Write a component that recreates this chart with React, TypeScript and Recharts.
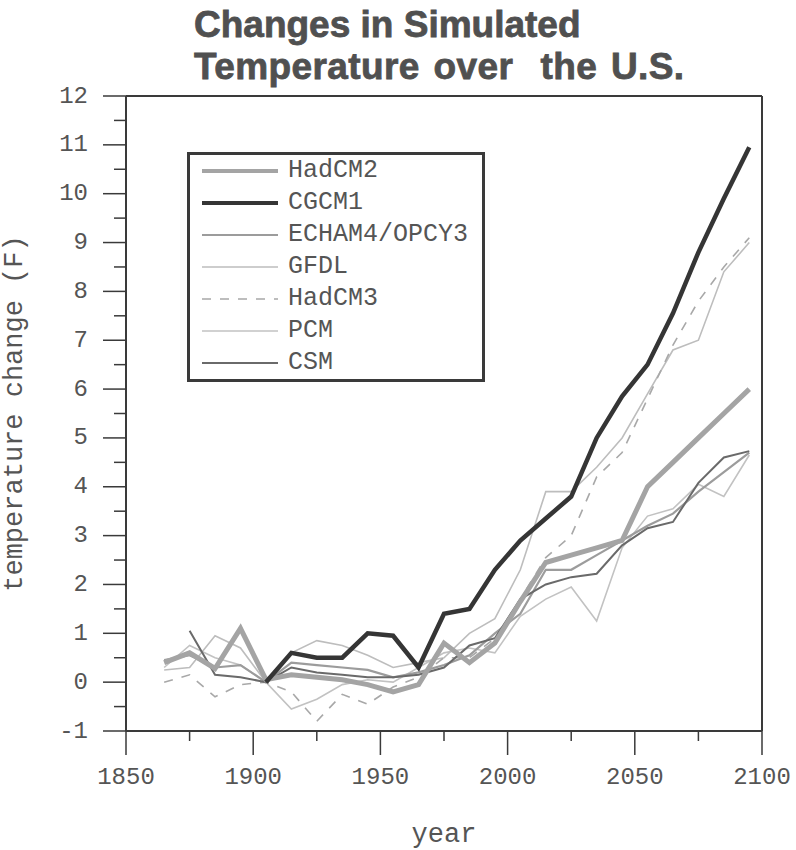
import { LineChart, Line, XAxis, YAxis, ReferenceLine, Legend } from 'recharts';

// decade mid-points, values are temperature change in °F
const years = [1865, 1875, 1885, 1895, 1905, 1915, 1925, 1935, 1945, 1955, 1965, 1975, 1985, 1995, 2005, 2015, 2025, 2035, 2045, 2055, 2065, 2075, 2085, 2095];

const hadCM2 = [0.4, 0.6, 0.28, 1.1, 0.05, 0.15, 0.1, 0.05, -0.05, -0.2, -0.05, 0.8, 0.4, 0.8, 1.65, 2.45, 2.6, 2.75, 2.9, 4.0, 4.5, 5.0, 5.5, 6.0];
const cgcm1 = [null, null, null, null, 0.0, 0.6, 0.5, 0.5, 1.0, 0.95, 0.3, 1.4, 1.5, 2.3, 2.9, 3.35, 3.8, 5.0, 5.85, 6.5, 7.55, 8.8, 9.9, 10.95];
const echam4 = [0.45, 0.55, 0.3, 0.35, 0.0, 0.4, 0.35, 0.3, 0.25, 0.1, 0.2, 0.35, 0.55, 1.0, 1.4, 2.3, 2.3, 2.6, 2.9, 3.2, 3.45, 3.9, 4.3, 4.7];
const gfdl = [0.25, 0.3, 0.95, 0.7, 0.0, 0.6, 0.85, 0.75, 0.55, 0.3, 0.4, 0.5, 1.0, 1.3, 2.3, 3.9, 3.9, 4.4, 5.0, 5.9, 6.8, 7.0, 8.4, 9.0];
const hadCM3 = [0.0, 0.15, -0.3, -0.05, 0.0, -0.2, -0.8, -0.25, -0.45, -0.1, 0.1, 0.5, 0.5, 0.9, 1.7, 2.55, 3.0, 4.2, 4.7, 5.8, 6.9, 7.8, 8.5, 9.1];
const pcm = [0.3, 0.75, 0.5, 0.35, 0.0, -0.55, -0.35, -0.05, 0.05, 0.0, 0.3, 0.6, 0.7, 0.6, 1.35, 1.7, 1.95, 1.25, 2.75, 3.4, 3.55, 4.05, 3.8, 4.65];
const csm = [null, 1.05, 0.15, 0.1, 0.0, 0.3, 0.2, 0.15, 0.1, 0.1, 0.15, 0.3, 0.75, 0.9, 1.7, 2.0, 2.15, 2.22, 2.8, 3.15, 3.28, 4.08, 4.6, 4.73];

const xTicks = [1850, 1875, 1900, 1925, 1950, 1975, 2000, 2025, 2050, 2075, 2100];
const yTicks = [-1, -0.5, 0, 0.5, 1, 1.5, 2, 2.5, 3, 3.5, 4, 4.5, 5, 5.5, 6, 6.5, 7, 7.5, 8, 8.5, 9, 9.5, 10, 10.5, 11, 11.5, 12];
const titleLines = ['Changes in Simulated', 'Temperature over  the U.S.'];
const legendNames = ['HadCM2', 'CGCM1', 'ECHAM4/OPCY3', 'GFDL', 'HadCM3', 'PCM', 'CSM'];

const seriesValues: Record<string, (number | null)[]> = {
  HadCM2: hadCM2,
  CGCM1: cgcm1,
  'ECHAM4/OPCY3': echam4,
  GFDL: gfdl,
  HadCM3: hadCM3,
  PCM: pcm,
  CSM: csm,
};

const styles: Record<string, { color: string; width: number; dash?: string }> = {
  HadCM2: { color: '#a4a4a4', width: 5 },
  CGCM1: { color: '#353535', width: 4.5 },
  'ECHAM4/OPCY3': { color: '#9c9c9c', width: 2.2 },
  GFDL: { color: '#bdbdbd', width: 1.6 },
  HadCM3: { color: '#a8a8a8', width: 1.6, dash: '9 9' },
  PCM: { color: '#c2c2c2', width: 1.6 },
  CSM: { color: '#6a6a6a', width: 2 },
};

// back to front
const drawOrder = ['PCM', 'GFDL', 'HadCM3', 'ECHAM4/OPCY3', 'CSM', 'HadCM2', 'CGCM1'];

const data = years.map((year, i) => {
  const row: Record<string, number | null> = { year };
  legendNames.forEach((n) => (row[n] = seriesValues[n][i]));
  return row;
});

const ink = '#3a3a3a';
const mono = '"Liberation Mono", "DejaVu Sans Mono", monospace';

const XTick = (props: any) => {
  const { x, y, payload } = props;
  const major = payload.value % 50 === 0;
  return (
    <g>
      <line x1={x} x2={x} y1={y} y2={y + (major ? 24 : 10)} stroke={ink} strokeWidth={1.5} />
      {major && (
        <text x={x} y={y + 53} textAnchor="middle" fontFamily={mono} fontSize={24} fill="#555">
          {payload.value}
        </text>
      )}
    </g>
  );
};

const YTick = (props: any) => {
  const { x, y, payload } = props;
  const major = Number.isInteger(payload.value);
  return (
    <g>
      <line x1={x - (major ? 23 : 12)} x2={x} y1={y} y2={y} stroke={ink} strokeWidth={1.5} />
      {major && (
        <text x={x - 38} y={y} textAnchor="end" dominantBaseline="central" fontFamily={mono} fontSize={24} fill="#555">
          {payload.value}
        </text>
      )}
    </g>
  );
};

const LegendBox = () => (
  <div style={{ border: `3px solid ${ink}`, background: '#fff', width: 298, boxSizing: 'border-box' }}>
    {legendNames.map((name) => {
      const s = styles[name];
      return (
        <div key={name} style={{ display: 'flex', alignItems: 'center', height: 32 }}>
          <svg width={98} height={12}>
            <line x1={12} x2={88} y1={6} y2={6} stroke={s.color} strokeWidth={Math.min(s.width, 4)} strokeDasharray={s.dash} />
          </svg>
          <span style={{ fontFamily: mono, fontSize: 25, color: '#555', lineHeight: '32px' }}>{name}</span>
        </div>
      );
    })}
  </div>
);

export default function App() {
  return (
    <div style={{ position: 'absolute', left: 0, top: 0, width: 796, height: 850, background: '#fff' }}>
      <div
        style={{
          position: 'absolute',
          left: 194,
          top: 4,
          fontFamily: '"Liberation Sans", Arial, sans-serif',
          fontWeight: 'bold',
          fontSize: 37,
          lineHeight: '42px',
          color: '#505050',
          WebkitTextStroke: '0.8px #505050',
          whiteSpace: 'pre',
          zIndex: 2,
        }}
      >
        {titleLines.map((t, i) => (
          <div key={t} style={{ wordSpacing: i === 1 ? 3 : 0, letterSpacing: i === 1 ? 0.4 : 0 }}>
            {t}
          </div>
        ))}
      </div>
      <LineChart width={796} height={850} data={data} margin={{ top: 96, right: 34, bottom: 0, left: 0 }}>
        <XAxis
          dataKey="year"
          type="number"
          domain={[1850, 2100]}
          ticks={xTicks}
          interval={0}
          tick={<XTick />}
          tickLine={false}
          tickSize={0}
          tickMargin={0}
          height={119}
          stroke={ink}
          strokeWidth={2}
          label={{ value: 'year', position: 'insideBottom', offset: 8, fontFamily: mono, fontSize: 27, fill: '#555' }}
        />
        <YAxis
          type="number"
          domain={[-1, 12]}
          ticks={yTicks}
          interval={0}
          tick={<YTick />}
          tickLine={false}
          tickSize={0}
          tickMargin={0}
          width={126}
          stroke={ink}
          strokeWidth={2}
          label={{
            value: 'temperature change (F)',
            angle: -90,
            position: 'insideLeft',
            offset: 12,
            fontFamily: mono,
            fontSize: 27,
            fill: '#555',
            style: { textAnchor: 'middle' },
          }}
        />
        <ReferenceLine y={12} stroke={ink} strokeWidth={2} />
        <ReferenceLine x={2100} stroke={ink} strokeWidth={2} />
        {drawOrder.map((name) => {
          const s = styles[name];
          return (
            <Line
              key={name}
              dataKey={name}
              type="linear"
              stroke={s.color}
              strokeWidth={s.width}
              strokeDasharray={s.dash}
              dot={false}
              legendType="none"
              isAnimationActive={false}
            />
          );
        })}
        <Legend
          layout="vertical"
          align="center"
          verticalAlign="middle"
          content={<LegendBox />}
          wrapperStyle={{ left: 187, top: 152, width: 298 }}
        />
      </LineChart>
    </div>
  );
}
